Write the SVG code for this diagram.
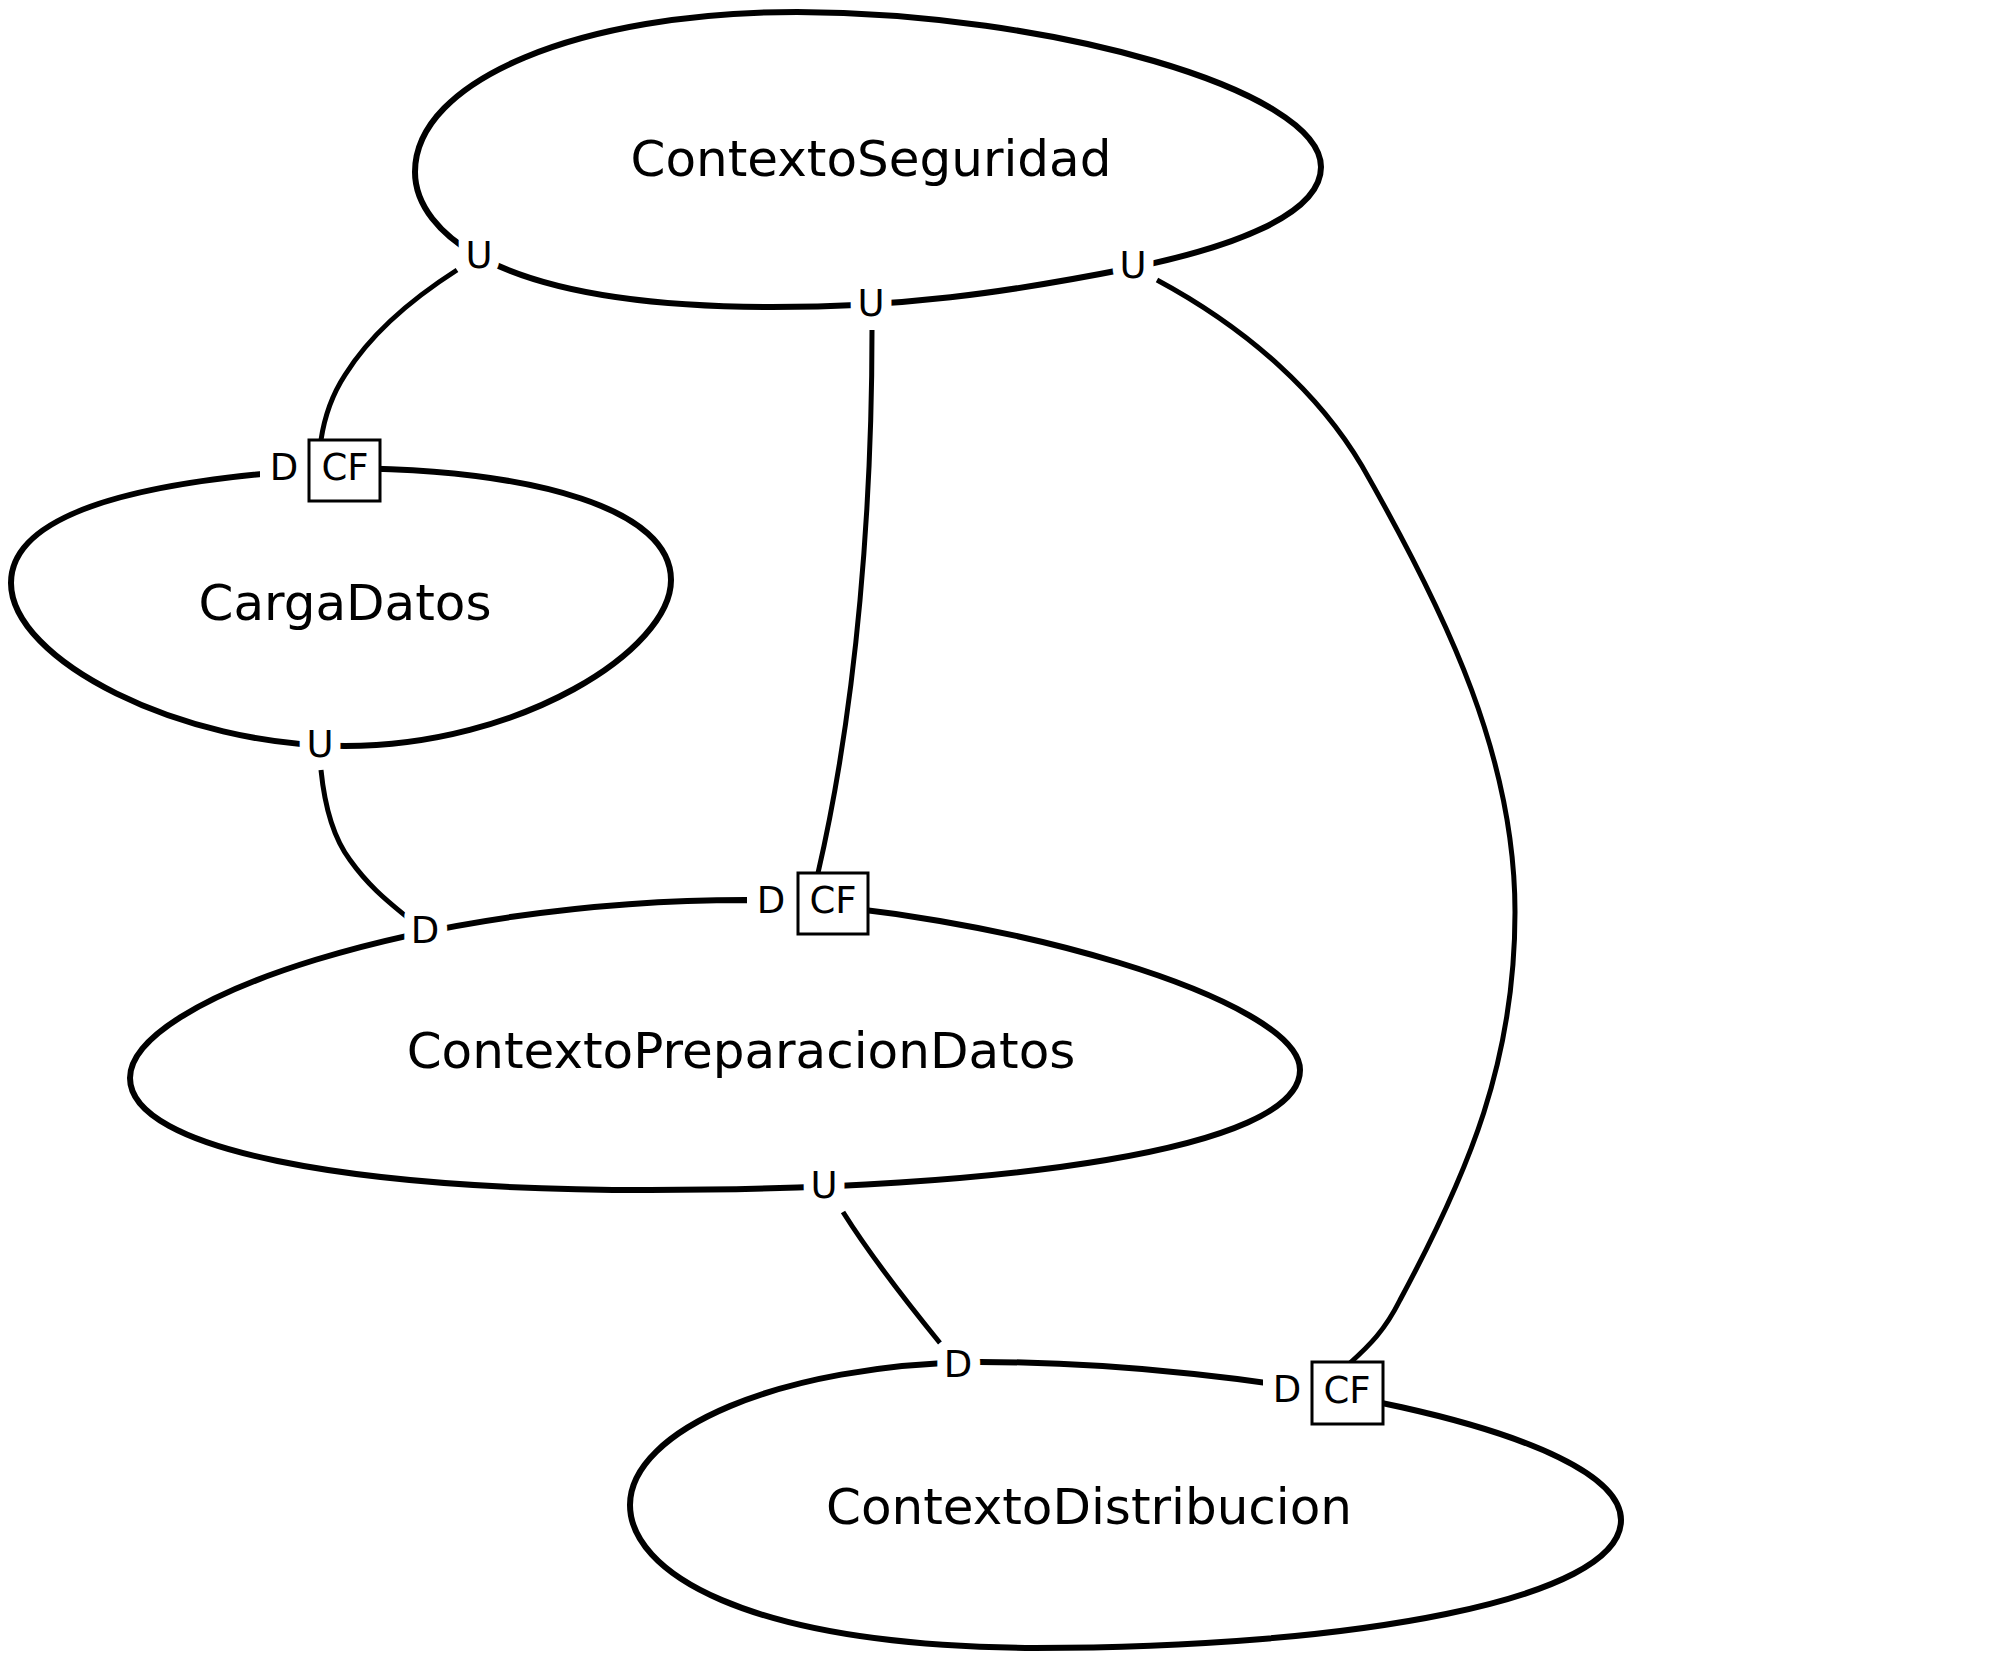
<svg xmlns="http://www.w3.org/2000/svg" width="2000" height="1677" viewBox="0 0 2000 1677">
<style>
.ctx{fill:none;stroke:#000;stroke-width:6;stroke-linejoin:round}
.name{font-family:"DejaVu Sans",sans-serif;font-size:50px;fill:#000;text-anchor:middle}
.conn{fill:none;stroke:#000;stroke-width:5;stroke-linecap:butt}
.end{font-family:"DejaVu Sans",sans-serif;font-size:37px;fill:#000;text-anchor:middle;stroke:#fff;stroke-width:20;stroke-linejoin:round;paint-order:stroke fill}
.cf{font-family:"DejaVu Sans",sans-serif;font-size:37px;fill:#000;text-anchor:middle}
.box{fill:#fff;stroke:#000;stroke-width:3}
.gap{fill:#fff;stroke:none}
</style>
<rect width="2000" height="1677" fill="#fff"/>
<g id="nodes">
<g id="ContextoSeguridad">
<path class="ctx" d="M415,172 C415,80 580,12 797,12 C1050,13 1321,90 1321,167 C1321,215 1230,248 1131,268 C1000,294 900,307 772,307 C640,307 540,290 478,256 C440,235 415,205 415,172 Z"/>
<text class="name" x="871" y="176">ContextoSeguridad</text>
</g>
<g id="CargaDatos">
<path class="ctx" d="M11,583 C11,510 150,478 345,468 C540,470 671,510 671,580 C671,650 520,746 345,746 C180,746 11,660 11,583 Z"/>
<text class="name" x="345" y="620">CargaDatos</text>
</g>
<g id="ContextoPreparacionDatos">
<path class="ctx" d="M130,1078 C130,1000 420,900 746,900 C1000,910 1300,1000 1300,1070 C1300,1150 1000,1190 650,1190 C350,1190 130,1150 130,1078 Z"/>
<text class="name" x="741" y="1068">ContextoPreparacionDatos</text>
</g>
<g id="ContextoDistribucion">
<path class="ctx" d="M630,1505 C630,1430 780,1364 980,1362 C1250,1362 1621,1430 1621,1520 C1621,1600 1350,1648 1035,1648 C740,1646 630,1570 630,1505 Z"/>
<text class="name" x="1089" y="1524">ContextoDistribucion</text>
</g>
</g>
<g id="connectors">
<path id="e1" class="conn" d="M457,270 C410,300 370,335 345,375 C330,398 324,420 321,440"/>
<path id="e2" class="conn" d="M872,330 C872,500 858,700 818,873"/>
<path id="e3" class="conn" d="M321,770 C325,810 335,840 350,860 C370,888 390,903 408,918"/>
<path id="e4" class="conn" d="M843,1212 C870,1255 905,1300 940,1343"/>
<path id="e5" class="conn" d="M1157,280 C1250,330 1320,395 1362,466 C1450,620 1515,760 1515,912 C1515,1060 1470,1170 1400,1300 C1385,1330 1370,1345 1350,1363"/>
</g>
<g id="edge-labels">
<text class="end" x="479" y="268">U</text>
<text class="end" x="871" y="316">U</text>
<text class="end" x="1133" y="278">U</text>
<rect class="gap" x="260" y="448" width="50" height="40"/>
<text class="end" x="284" y="480">D</text>
<rect class="box" x="309" y="440" width="71" height="61"/>
<text class="cf" x="345" y="480">CF</text>
<text class="end" x="320" y="757">U</text>
<text class="end" x="425" y="943">D</text>
<rect class="gap" x="747" y="882" width="52" height="40"/>
<text class="end" x="771" y="913">D</text>
<rect class="box" x="798" y="873" width="70" height="61"/>
<text class="cf" x="833" y="913">CF</text>
<text class="end" x="824" y="1198">U</text>
<text class="end" x="958" y="1377">D</text>
<rect class="gap" x="1263" y="1372" width="50" height="40"/>
<text class="end" x="1287" y="1402">D</text>
<rect class="box" x="1312" y="1362" width="71" height="62"/>
<text class="cf" x="1347" y="1403">CF</text>
</g>
</svg>
